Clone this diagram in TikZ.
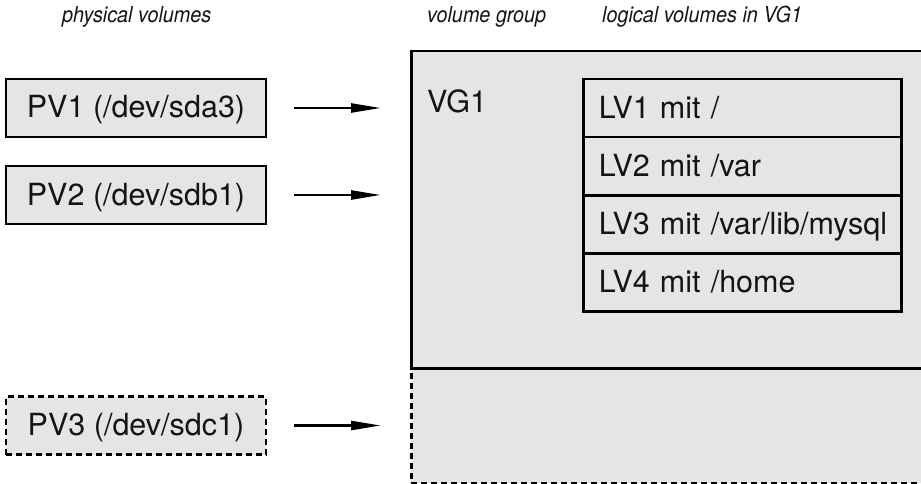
\documentclass[tikz,border=0pt]{standalone}
\usepackage{fontspec}
\setmainfont{TeX Gyre Heros}
\usetikzlibrary{arrows.meta}
\definecolor{boxfill}{RGB}{229,229,229}
\definecolor{ink}{RGB}{20,20,20}
\tikzset{
  pvbox/.style={draw=black, fill=boxfill, line width=2.5pt, minimum width=260pt, minimum height=58pt,
    inner sep=0pt, text height=22pt, text depth=2pt, font=\fontsize{30.5}{36}\selectfont, text=ink},
  lvbox/.style={draw=black, fill=boxfill, line width=2.5pt, minimum height=58pt, anchor=north west,
    text width=287pt, inner xsep=15.5pt, inner ysep=0pt, align=left, text height=22pt, text depth=2pt,
    font=\fontsize{30.5}{36}\selectfont, text=ink},
  dashedline/.style={dash pattern=on 6pt off 4pt},
  header/.style={anchor=base west, inner sep=0pt, xscale=0.9, transform shape,
    font=\fontsize{22}{26}\selectfont\itshape, text=ink},
  arr/.style={line width=2.5pt, -{Triangle[length=30pt,width=9pt]}, shorten <=27pt, shorten >=29pt},
}
\begin{document}
\begin{tikzpicture}[x=1pt,y=-1pt]
\path[use as bounding box, clip] (0,0) rectangle (921,484);
\fill[white] (0,0) rectangle (921,484);

% headers
\node[header] (hpv) at (62,23) {physical volumes};
\node[header] (hvg) at (427,23) {volume group};
\node[header] (hlv) at (602,23) {logical volumes in VG1};

% volume group with dashed extension
\node[draw=black, fill=boxfill, line width=2.5pt, dashedline, anchor=north west, inner sep=0pt,
      minimum width=530pt, minimum height=115pt] (vgx) at (410,367) {};
\node[draw=black, fill=boxfill, line width=2.5pt, anchor=north west, inner sep=0pt,
      minimum width=530pt, minimum height=317pt] (vg) at (410,50) {};
\node[anchor=base west, inner sep=0pt, font=\fontsize{30.5}{36}\selectfont, text=ink] (vglabel) at (427,113) {VG1};

% logical volumes
\node[lvbox] (lv1) at (582,78) {\mbox{LV1 mit /}};
\node[lvbox] (lv2) at (582,136) {\mbox{LV2 mit /var}};
\node[lvbox] (lv3) at (582,194) {\mbox{LV3 mit /var/lib/mysql}};
\node[lvbox] (lv4) at (582,252) {\mbox{LV4 mit /home}};

% physical volumes
\node[pvbox] (pv1) at (136,108) {PV1 (/dev/sda3)};
\node[pvbox] (pv2) at (136,195) {PV2 (/dev/sdb1)};
\node[pvbox, dashedline] (pv3) at (136,425.5) {PV3 (/dev/sdc1)};

% arrows
\draw[arr] (pv1.east) -- (pv1.east -| vg.west);
\draw[arr] (pv2.east) -- (pv2.east -| vg.west);
\draw[arr] (pv3.east) -- (pv3.east -| vgx.west);
\end{tikzpicture}
\end{document}
